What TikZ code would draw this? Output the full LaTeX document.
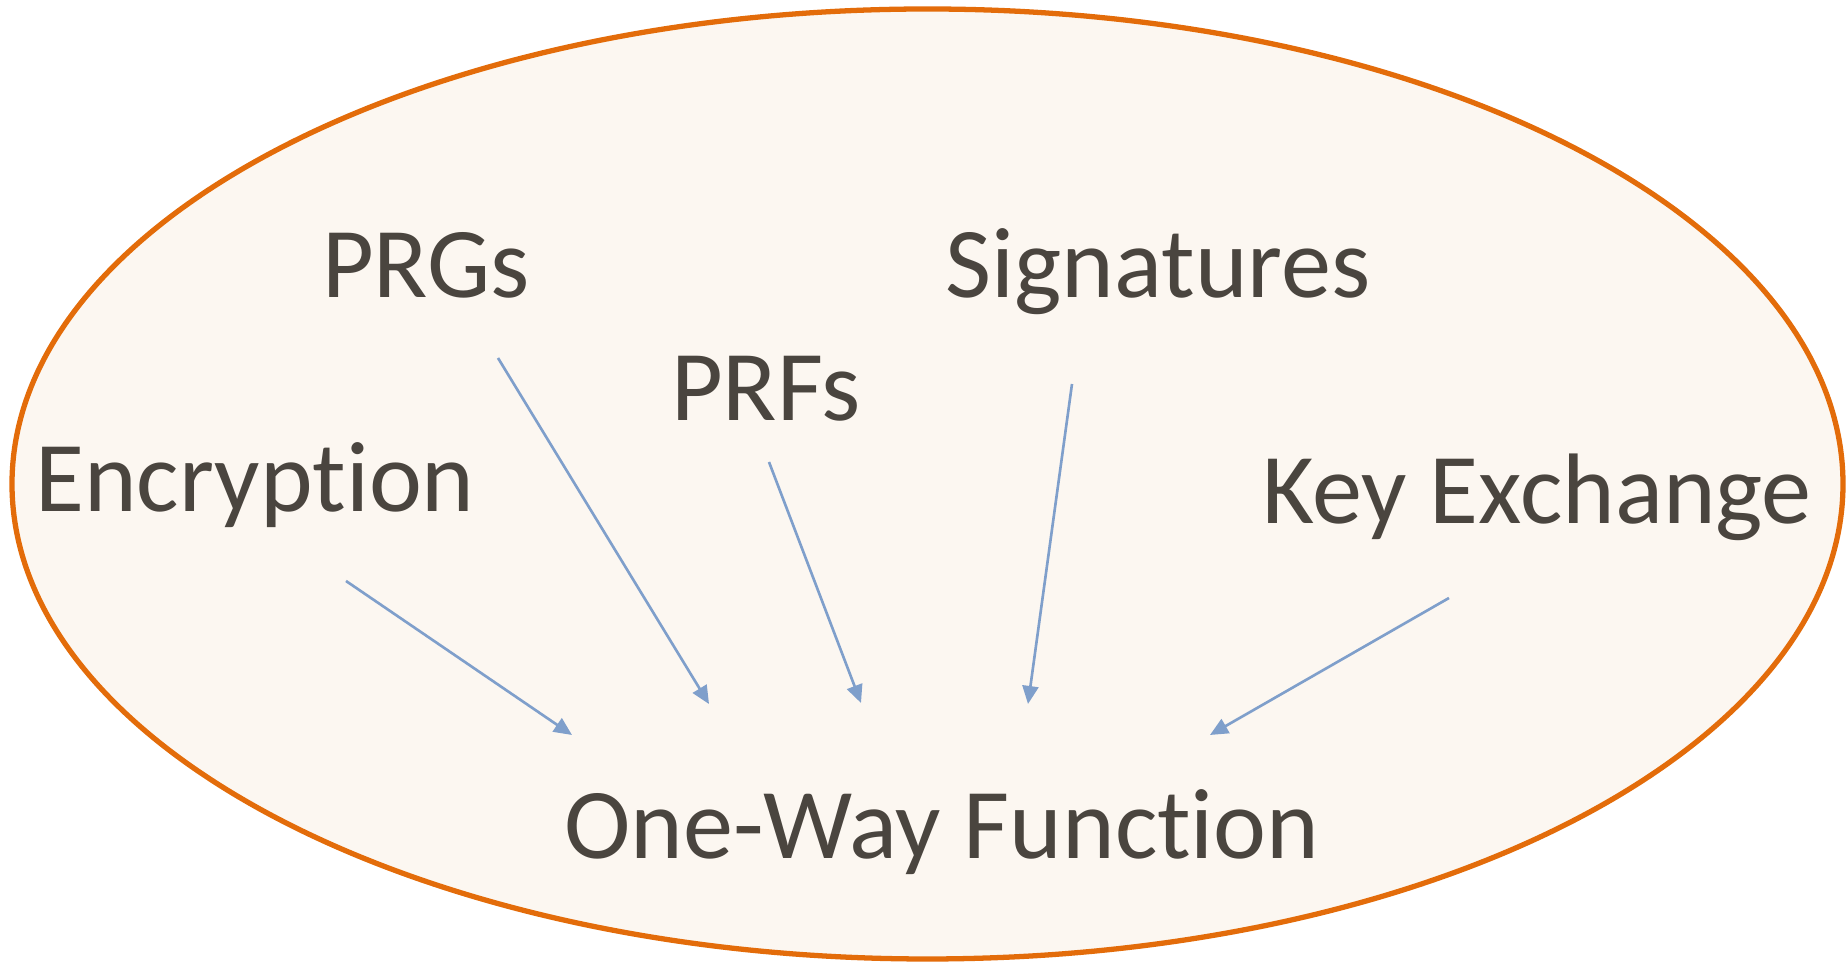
\documentclass[tikz,border=0pt]{standalone}
\usepackage{fontspec}
\setmainfont{Carlito}[Ligatures=NoCommon]
\usetikzlibrary{arrows.meta}
\definecolor{ovalline}{HTML}{E36C0A}
\definecolor{ovalfill}{HTML}{FCF7F1}
\definecolor{arrowblue}{HTML}{7F9FCB}
\definecolor{textgrey}{HTML}{4A453F}
\begin{document}
\begin{tikzpicture}[
    x=0.01cm, y=-0.01cm,
    concept/.style={
        text=textgrey,
        anchor=base,
        inner sep=0pt,
        font=\fontsize{28.5}{34}\selectfont
    },
    reduce/.style={
        draw=arrowblue,
        line width=0.75pt,
        -{Triangle[length=0.18cm, width=0.16cm]}
    }
]
\useasboundingbox (0,0) rectangle (1847,962);

\draw[draw=ovalline, fill=ovalfill, line width=1.5pt] (927.5,484) ellipse [x radius=915.5, y radius=-475];

\node[concept] (enc) at (255,512) {Encryption};
\node[concept] (prg) at (426,298) {PRGs};
\node[concept] (prf) at (766,421) {PRFs};
\node[concept] (sig) at (1158,298) {Signatures};
\node[concept] (kex) at (1537,524) {Key Exchange};
\node[concept] (owf) at (942,859) {One-Way Function};

\coordinate (encS) at (346,581);  \coordinate (encE) at (572,735);
\coordinate (prgS) at (498,358);  \coordinate (prgE) at (709,704);
\coordinate (prfS) at (769,462);  \coordinate (prfE) at (861,703);
\coordinate (sigS) at (1072,384); \coordinate (sigE) at (1028,704);
\coordinate (kexS) at (1449,598); \coordinate (kexE) at (1210,735);

\draw[reduce] (encS) -- (encE);
\draw[reduce] (prgS) -- (prgE);
\draw[reduce] (prfS) -- (prfE);
\draw[reduce] (sigS) -- (sigE);
\draw[reduce] (kexS) -- (kexE);

\end{tikzpicture}
\end{document}
